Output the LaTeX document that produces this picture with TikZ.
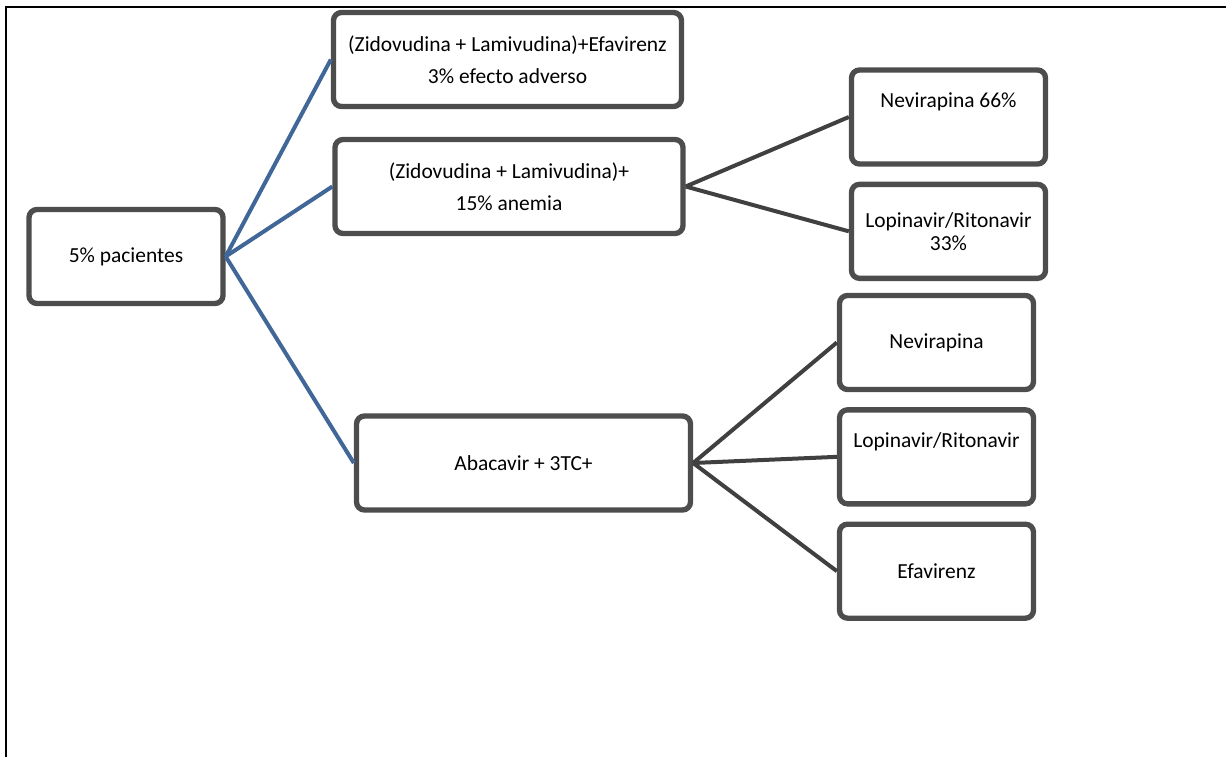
\documentclass[tikz,border=0pt]{standalone}
\usepackage{fontspec}
\setmainfont{Carlito}
\usepackage{xcolor}
\usetikzlibrary{positioning}

\definecolor{boxgray}{RGB}{77,77,77}
\definecolor{linkgray}{RGB}{64,64,64}
\definecolor{linkblue}{RGB}{65,103,153}

\begin{document}
\begin{tikzpicture}[x=0.75pt, y=-0.75pt, node distance=11.25pt,
    box/.style={draw=boxgray, line width=4pt, rounded corners=6pt, fill=white, align=center,
        font=\fontsize{16.1}{17.25}\selectfont, minimum height=70.5pt},
    wide/.style={box, minimum width=261pt},
    small/.style={box, minimum width=145.5pt},
    uptext/.style={text height=11pt, text depth=25.5pt},
    bluelink/.style={draw=linkblue, line width=3pt},
    graylink/.style={draw=linkgray, line width=3pt}]
    \useasboundingbox (0,0) rectangle (1226,757);
    % frame
    \draw[line width=1.5pt] (5.5,757) -- (5.5,6.5) -- (1240,6.5);

    \node [small] (pac) at (126,256.5) {5\% pacientes};

    \node [wide] (zle) at (507.5,59.5) {(Zidovudina + Lamivudina)+Efavirenz\\[6.75pt]3\% efecto adverso};
    \node [wide] (zla) at (509,186.5) {(Zidovudina + Lamivudina)+\\[6.75pt]15\% anemia};
    \node [wide, minimum width=250.5pt] (aba) at (523.5,463) {Abacavir + 3TC+};

    \node [small, uptext] (nev1) at (948.5,117) {Nevirapina 66\%};
    \node [small, below=of nev1] (lop1) {Lopinavir/Ritonavir\\33\%};

    \node [small] (nev2) at (936.5,342.5) {Nevirapina};
    \node [small, uptext, below=of nev2] (lop2) {Lopinavir/Ritonavir};
    \node [small, below=of lop2] (efa) {Efavirenz};

    \draw [bluelink] (pac.east) -- (zle.west);
    \draw [bluelink] (pac.east) -- (zla.west);
    \draw [bluelink] (pac.east) -- (aba.west);

    \draw [graylink] (zla.east) -- (nev1.west);
    \draw [graylink] (zla.east) -- (lop1.west);

    \draw [graylink] (aba.east) -- (nev2.west);
    \draw [graylink] (aba.east) -- (lop2.west);
    \draw [graylink] (aba.east) -- (efa.west);
\end{tikzpicture}
\end{document}
